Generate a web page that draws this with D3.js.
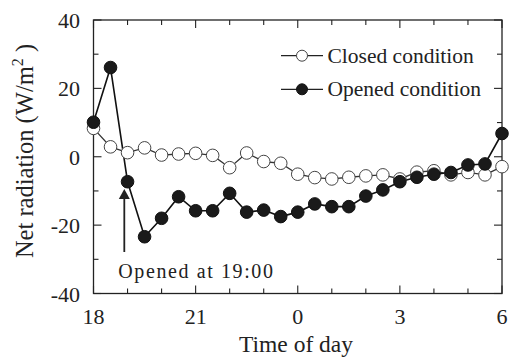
<!DOCTYPE html>
<html><head><meta charset="utf-8">
<script src="https://cdn.jsdelivr.net/npm/d3@7"></script>
<style>body{margin:0;background:#fff}svg{display:block}</style>
</head><body>
<script>
const times = [18,18.5,19,19.5,20,20.5,21,21.5,22,22.5,23,23.5,24,24.5,25,25.5,26,26.5,27,27.5,28,28.5,29,29.5,30];
const closedValues = [8.3,2.9,1.2,2.6,0.5,0.8,1.0,0.4,-3.2,1.1,-1.4,-1.9,-5.1,-6.1,-6.5,-6.0,-5.6,-5.3,-6.5,-4.5,-4.1,-5.3,-4.6,-5.3,-2.9];
const openedValues = [10.1,26.1,-7.3,-23.4,-18.0,-11.7,-15.8,-15.8,-10.7,-16.2,-15.6,-17.5,-16.2,-13.8,-14.6,-14.6,-11.5,-9.7,-7.3,-6.0,-5.1,-4.6,-2.4,-2.1,6.8];
const xTickValues = [18,21,24,27,30];
const xTickLabels = ["18","21","0","3","6"];
const yTickValues = [-40,-20,0,20,40];
const seriesNames = ["Closed condition","Opened condition"];

const W=509,H=361;
const L=93.5,R=502,T=20,B=293.5;
const svg=d3.select("body").append("svg").attr("width",W).attr("height",H)
  .attr("font-family","'Liberation Serif', 'DejaVu Serif', serif").attr("fill","#222");
const x=d3.scaleLinear().domain([18,30]).range([L,R]);
const y=d3.scaleLinear().domain([-40,40]).range([B,T]);

svg.append("rect").attr("x",L).attr("y",T).attr("width",R-L).attr("height",B-T)
  .attr("fill","none").attr("stroke","#222").attr("stroke-width",1.3);

const minorX=d3.range(18,30.01,1), minorY=d3.range(-40,40.01,10);
const tk=svg.append("g").attr("stroke","#222").attr("stroke-width",1.1);
minorX.forEach(v=>{
  const len = xTickValues.includes(v)?8:5;
  tk.append("line").attr("x1",x(v)).attr("x2",x(v)).attr("y1",B).attr("y2",B-len);
  tk.append("line").attr("x1",x(v)).attr("x2",x(v)).attr("y1",T).attr("y2",T+len);
});
minorY.forEach(v=>{
  const len = yTickValues.includes(v)?8:5;
  tk.append("line").attr("y1",y(v)).attr("y2",y(v)).attr("x1",L).attr("x2",L+len);
  tk.append("line").attr("y1",y(v)).attr("y2",y(v)).attr("x1",R).attr("x2",R-len);
});

xTickValues.forEach((v,i)=>{
  svg.append("text").attr("x",x(v)).attr("y",324).attr("text-anchor","middle")
    .attr("font-size",22).text(xTickLabels[i]);
});
yTickValues.forEach(v=>{
  svg.append("text").attr("x",80).attr("y",y(v)+8).attr("text-anchor","end")
    .attr("font-size",22).text(v);
});

svg.append("text").attr("x",296).attr("y",352).attr("text-anchor","middle")
  .attr("font-size",23.5).text("Time of day");
const yl=svg.append("text").attr("transform","translate(33,151) rotate(-90)")
  .attr("text-anchor","middle").attr("font-size",24.5);
yl.append("tspan").text("Net radiation (W/m");
yl.append("tspan").attr("font-size",16).attr("dy",-10).text("2");
yl.append("tspan").attr("dy",10).text(" )");

const line=d3.line().x((d,i)=>x(times[i])).y(d=>y(d));
svg.append("path").datum(closedValues).attr("d",line).attr("fill","none").attr("stroke","#333").attr("stroke-width",1.3);
svg.append("path").datum(openedValues).attr("d",line).attr("fill","none").attr("stroke","#111").attr("stroke-width",1.6);

svg.append("g").selectAll("circle").data(closedValues).join("circle")
  .attr("cx",(d,i)=>x(times[i])).attr("cy",d=>y(d)).attr("r",6.3)
  .attr("fill","#fff").attr("stroke","#444").attr("stroke-width",1);
svg.append("g").selectAll("circle").data(openedValues).join("circle")
  .attr("cx",(d,i)=>x(times[i])).attr("cy",d=>y(d)).attr("r",6.3)
  .attr("fill","#1a1a1a").attr("stroke","#111").attr("stroke-width",1);

const lg=[{y:55.7,fill:"#fff",stroke:"#444"},{y:89.3,fill:"#1a1a1a",stroke:"#111"}];
lg.forEach((d,i)=>{
  svg.append("line").attr("x1",281).attr("x2",323).attr("y1",d.y).attr("y2",d.y).attr("stroke","#222").attr("stroke-width",1.3);
  svg.append("circle").attr("cx",302).attr("cy",d.y).attr("r",5.5).attr("fill",d.fill).attr("stroke",d.stroke);
  svg.append("text").attr("x",327.5).attr("y",d.y+7).attr("font-size",21.5).text(seriesNames[i]);
});

const ax=124.3;
svg.append("line").attr("x1",ax).attr("x2",ax).attr("y1",252).attr("y2",197).attr("stroke","#222").attr("stroke-width",1.8);
svg.append("path").attr("d",`M${ax},189 L${ax-5.5},199 L${ax+5.5},199 Z`).attr("fill","#222");
svg.append("text").attr("x",118.3).attr("y",278).attr("font-size",20).attr("letter-spacing",1.6).text("Opened at 19:00");
</script>
</body></html>
